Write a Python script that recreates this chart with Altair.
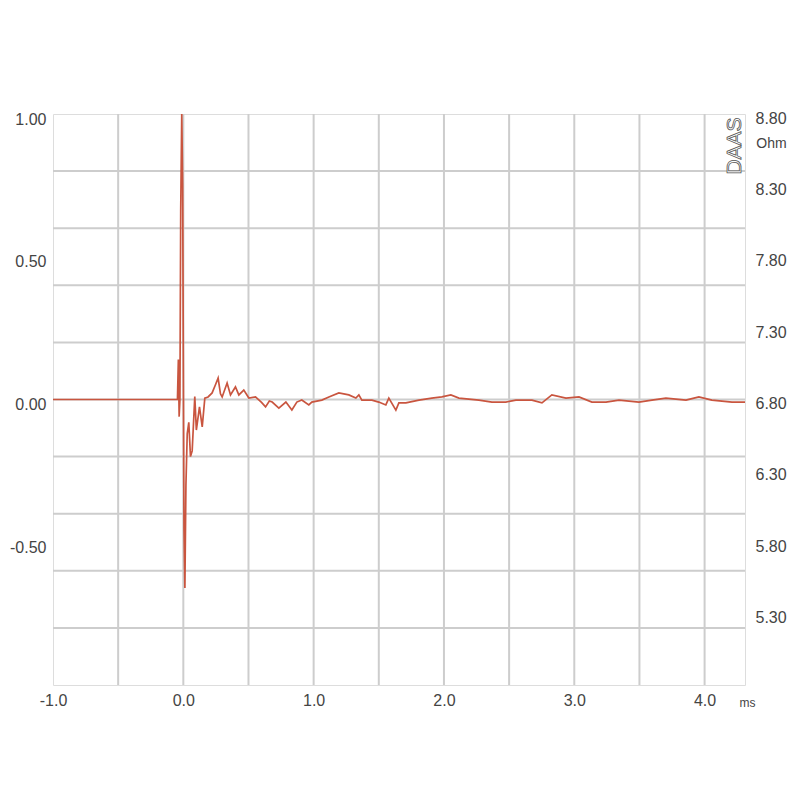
import altair as alt
import pandas as pd

# impulse response samples (time in ms, normalized amplitude)
t_ms = [-1.0, -0.06, -0.045, -0.038, -0.032, -0.026, -0.02, -0.012, -0.005, 0.005, 0.012,
        0.02, 0.03, 0.042, 0.055, 0.068, 0.088, 0.1, 0.124, 0.145, 0.165, 0.19, 0.221,
        0.245, 0.267, 0.285, 0.298, 0.336, 0.362, 0.4, 0.426, 0.464, 0.503, 0.554, 0.6,
        0.631, 0.66, 0.682, 0.733, 0.787, 0.833, 0.871, 0.909, 0.963, 0.986, 1.063,
        1.117, 1.193, 1.27, 1.324, 1.347, 1.37, 1.447, 1.5, 1.554, 1.577, 1.631, 1.654,
        1.708, 1.808, 1.907, 1.984, 2.053, 2.115, 2.268, 2.368, 2.475, 2.552, 2.675,
        2.752, 2.828, 2.936, 3.036, 3.135, 3.243, 3.343, 3.496, 3.596, 3.703, 3.857,
        3.956, 4.056, 4.21, 4.31]
amp = [0.0, 0.0, 0.0, 0.14, -0.06, 0.0, 0.66, 1.0, 0.75, -0.45, -0.66,
       -0.3, -0.12, -0.08, -0.2, -0.18, 0.01, -0.107, -0.026, -0.096, 0.005, 0.009, 0.023,
       0.05, 0.075, 0.02, 0.009, 0.058, 0.016, 0.044, 0.016, 0.033, 0.005, 0.009, -0.01,
       -0.026, -0.005, -0.009, -0.03, -0.009, -0.037, -0.009, -0.002, -0.019, -0.009, -0.002,
       0.009, 0.023, 0.016, 0.005, 0.016, -0.002, -0.002, -0.009, -0.019, 0.005, -0.037, -0.012,
       -0.012, -0.002, 0.005, 0.009, 0.016, 0.005, -0.002, -0.009, -0.009, -0.002, -0.002,
       -0.012, 0.016, 0.005, 0.009, -0.009, -0.009, -0.002, -0.009, -0.002, 0.005, -0.002,
       0.009, -0.002, -0.009, -0.009]

x_ticks = [-1.0, 0.0, 1.0, 2.0, 3.0, 4.0]
left_ticks = [1.0, 0.5, 0.0, -0.5]
ohm_ticks = [5.3, 5.8, 6.3, 6.8, 7.3, 7.8, 8.3, 8.8]
hgrid = [-0.8, -0.6, -0.4, -0.2, 0.0, 0.2, 0.4, 0.6, 0.8]
vgrid = [-0.5, 0.0, 0.5, 1.0, 1.5, 2.0, 2.5, 3.0, 3.5, 4.0]

FONT = "Liberation Sans"
LBL = "#444444"
GRID = "#cdcdcd"

xscale = alt.Scale(domain=[-1.0, 4.31], nice=False, zero=False)
yscale = alt.Scale(domain=[-1.0, 1.0], nice=False, zero=False)
ohmscale = alt.Scale(domain=[4.8, 8.8], nice=False, zero=False)

xaxis = alt.Axis(values=x_ticks, grid=False, ticks=False, domain=False,
                 labelExpr="replace(format(datum.value, '.1f'), '\u2212', '-')",
                 labelFont=FONT, labelFontSize=16, labelColor=LBL, labelPadding=7,
                 labelFlush=False,
                 title="ms", titleFont=FONT, titleFontSize=12, titleFontWeight="normal",
                 titleColor=LBL, titleX=694, titleY=17, titleAlign="center",
                 titleBaseline="middle")

df = pd.DataFrame({"t": t_ms, "v": amp})

vg = alt.Chart(pd.DataFrame({"t": vgrid})).mark_rule(color=GRID, strokeWidth=2).encode(
    x=alt.X("t:Q", scale=xscale, axis=xaxis)
)
hg = alt.Chart(pd.DataFrame({"v": hgrid})).mark_rule(color=GRID, strokeWidth=2).encode(
    y=alt.Y("v:Q", scale=yscale, axis=None)
)

line = alt.Chart(df).mark_line(color="#c9553f", strokeWidth=1.7, clip=True).encode(
    x=alt.X("t:Q", scale=xscale, axis=xaxis),
    y=alt.Y("v:Q", scale=yscale,
            axis=alt.Axis(orient="left", values=left_ticks, grid=False, ticks=False,
                          labelExpr="replace(format(datum.value, '.2f'), '\u2212', '-')",
                          domain=False, labelFont=FONT, labelFontSize=16, labelColor=LBL,
                          labelPadding=7, labelOffset=5, labelBaseline="middle", title=None,
                          labelFlush=False)),
)

ohm = alt.Chart(pd.DataFrame({"ohm": ohm_ticks})).mark_point(opacity=0).encode(
    y=alt.Y("ohm:Q", scale=ohmscale,
            axis=alt.Axis(orient="right", values=ohm_ticks, format=".2f", grid=False, ticks=False,
                          domain=False, labelFont=FONT, labelFontSize=16, labelColor=LBL,
                          labelPadding=10, labelOffset=4, labelBaseline="middle", labelFlush=False,
                          title="Ohm", titleAngle=0, titleFont=FONT, titleFontSize=14,
                          titleFontWeight="normal", titleColor=LBL, titleX=26, titleY=29,
                          titleAlign="center", titleBaseline="middle"))
)

logo = alt.Chart(pd.DataFrame({"txt": ["DAAS"]})).mark_text(
    angle=270, font=FONT, fontSize=21, fill="white", stroke="#555555", strokeWidth=0.8,
    align="center", baseline="middle"
).encode(text="txt:N", x=alt.value(682), y=alt.value(32))

chart = alt.layer(vg, hg, line, ohm, logo).resolve_scale(y="independent").properties(
    width=692, height=571,
    autosize="none",
    padding={"left": 45, "top": 106, "right": 47, "bottom": 100},
).configure_view(stroke="#555555", strokeWidth=2).configure(background="white")

chart.save("out.html", embed_options={"renderer": "svg", "actions": False})
